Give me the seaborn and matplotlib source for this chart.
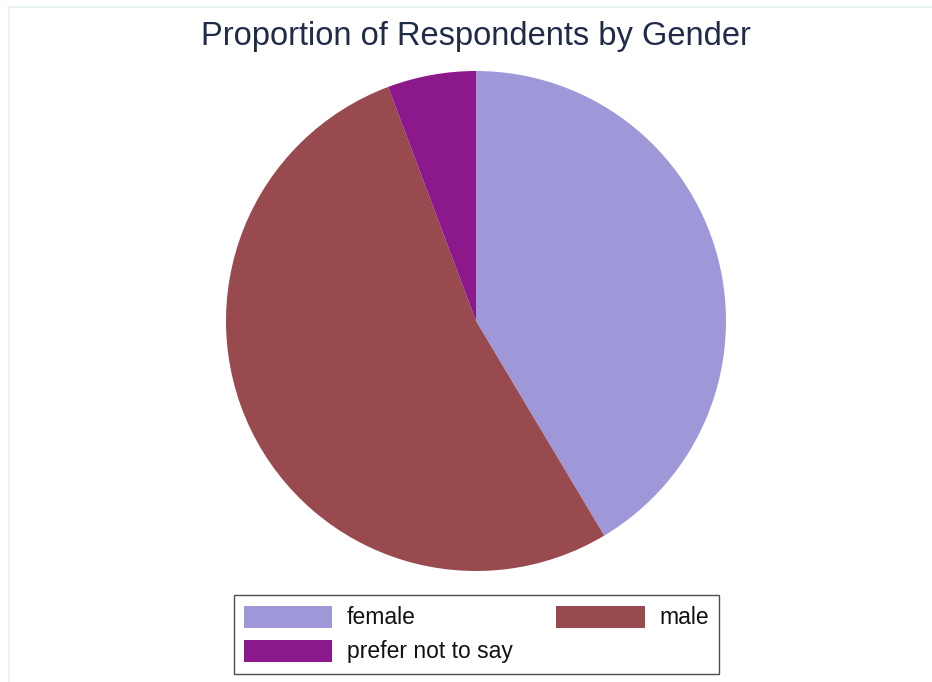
import matplotlib
matplotlib.use("Agg")
import matplotlib.pyplot as plt
from matplotlib.patches import Patch
from matplotlib.lines import Line2D
import seaborn as sns

categories = ["female", "male", "prefer not to say"]
counts = [29, 37, 4]
slice_colors = ["#9f98d8", "#994a4e", "#8c198b"]
title_text = "Proportion of Respondents by Gender"

sns.set_theme(style="white")
plt.rcParams["font.family"] = ["Liberation Sans", "DejaVu Sans"]

palette = sns.color_palette(slice_colors)

fig = plt.figure(figsize=(9.32, 6.82), dpi=100)
fig.patch.set_facecolor("white")

# faint outer frame (top and left edges)
fig.add_artist(Line2D([8 / 932, 1.0], [1 - 6.5 / 682, 1 - 6.5 / 682],
                      transform=fig.transFigure, color="#eaf5f5", lw=1.6))
fig.add_artist(Line2D([9 / 932, 9 / 932], [0.0, 1 - 6.5 / 682],
                      transform=fig.transFigure, color="#eaf5f5", lw=1.6))

ax = fig.add_axes([226 / 932, (682 - 571) / 682, 500 / 932, 500 / 682])
ax.pie(counts, colors=palette, startangle=90, counterclock=False,
       radius=1.0, wedgeprops=dict(linewidth=0))
ax.set_xlim(-1, 1)
ax.set_ylim(-1, 1)
ax.set_aspect("auto")
ax.axis("off")

fig.text(476 / 932, 1 - 37 / 682, title_text, ha="center", va="center",
         fontsize=23.5, color="#1f2b48")

handles = [Patch(facecolor=palette[i], edgecolor="none") for i in range(3)]
order = [0, 2, 1]
leg = fig.legend([handles[i] for i in order], [categories[i] for i in order],
                 loc="center", bbox_to_anchor=(476.5 / 932, 1 - 634.5 / 682),
                 ncol=2, fontsize=16.5, frameon=True, fancybox=False,
                 shadow=False, handlelength=3.85, handleheight=1.1,
                 handletextpad=0.65, columnspacing=1.9, labelspacing=0.45,
                 borderpad=0.45, borderaxespad=0)
leg.get_frame().set_edgecolor("#222222")
leg.get_frame().set_linewidth(1.0)
for t in leg.get_texts():
    t.set_color("#111111")

fig.savefig("out.png", dpi=100, facecolor="white")
